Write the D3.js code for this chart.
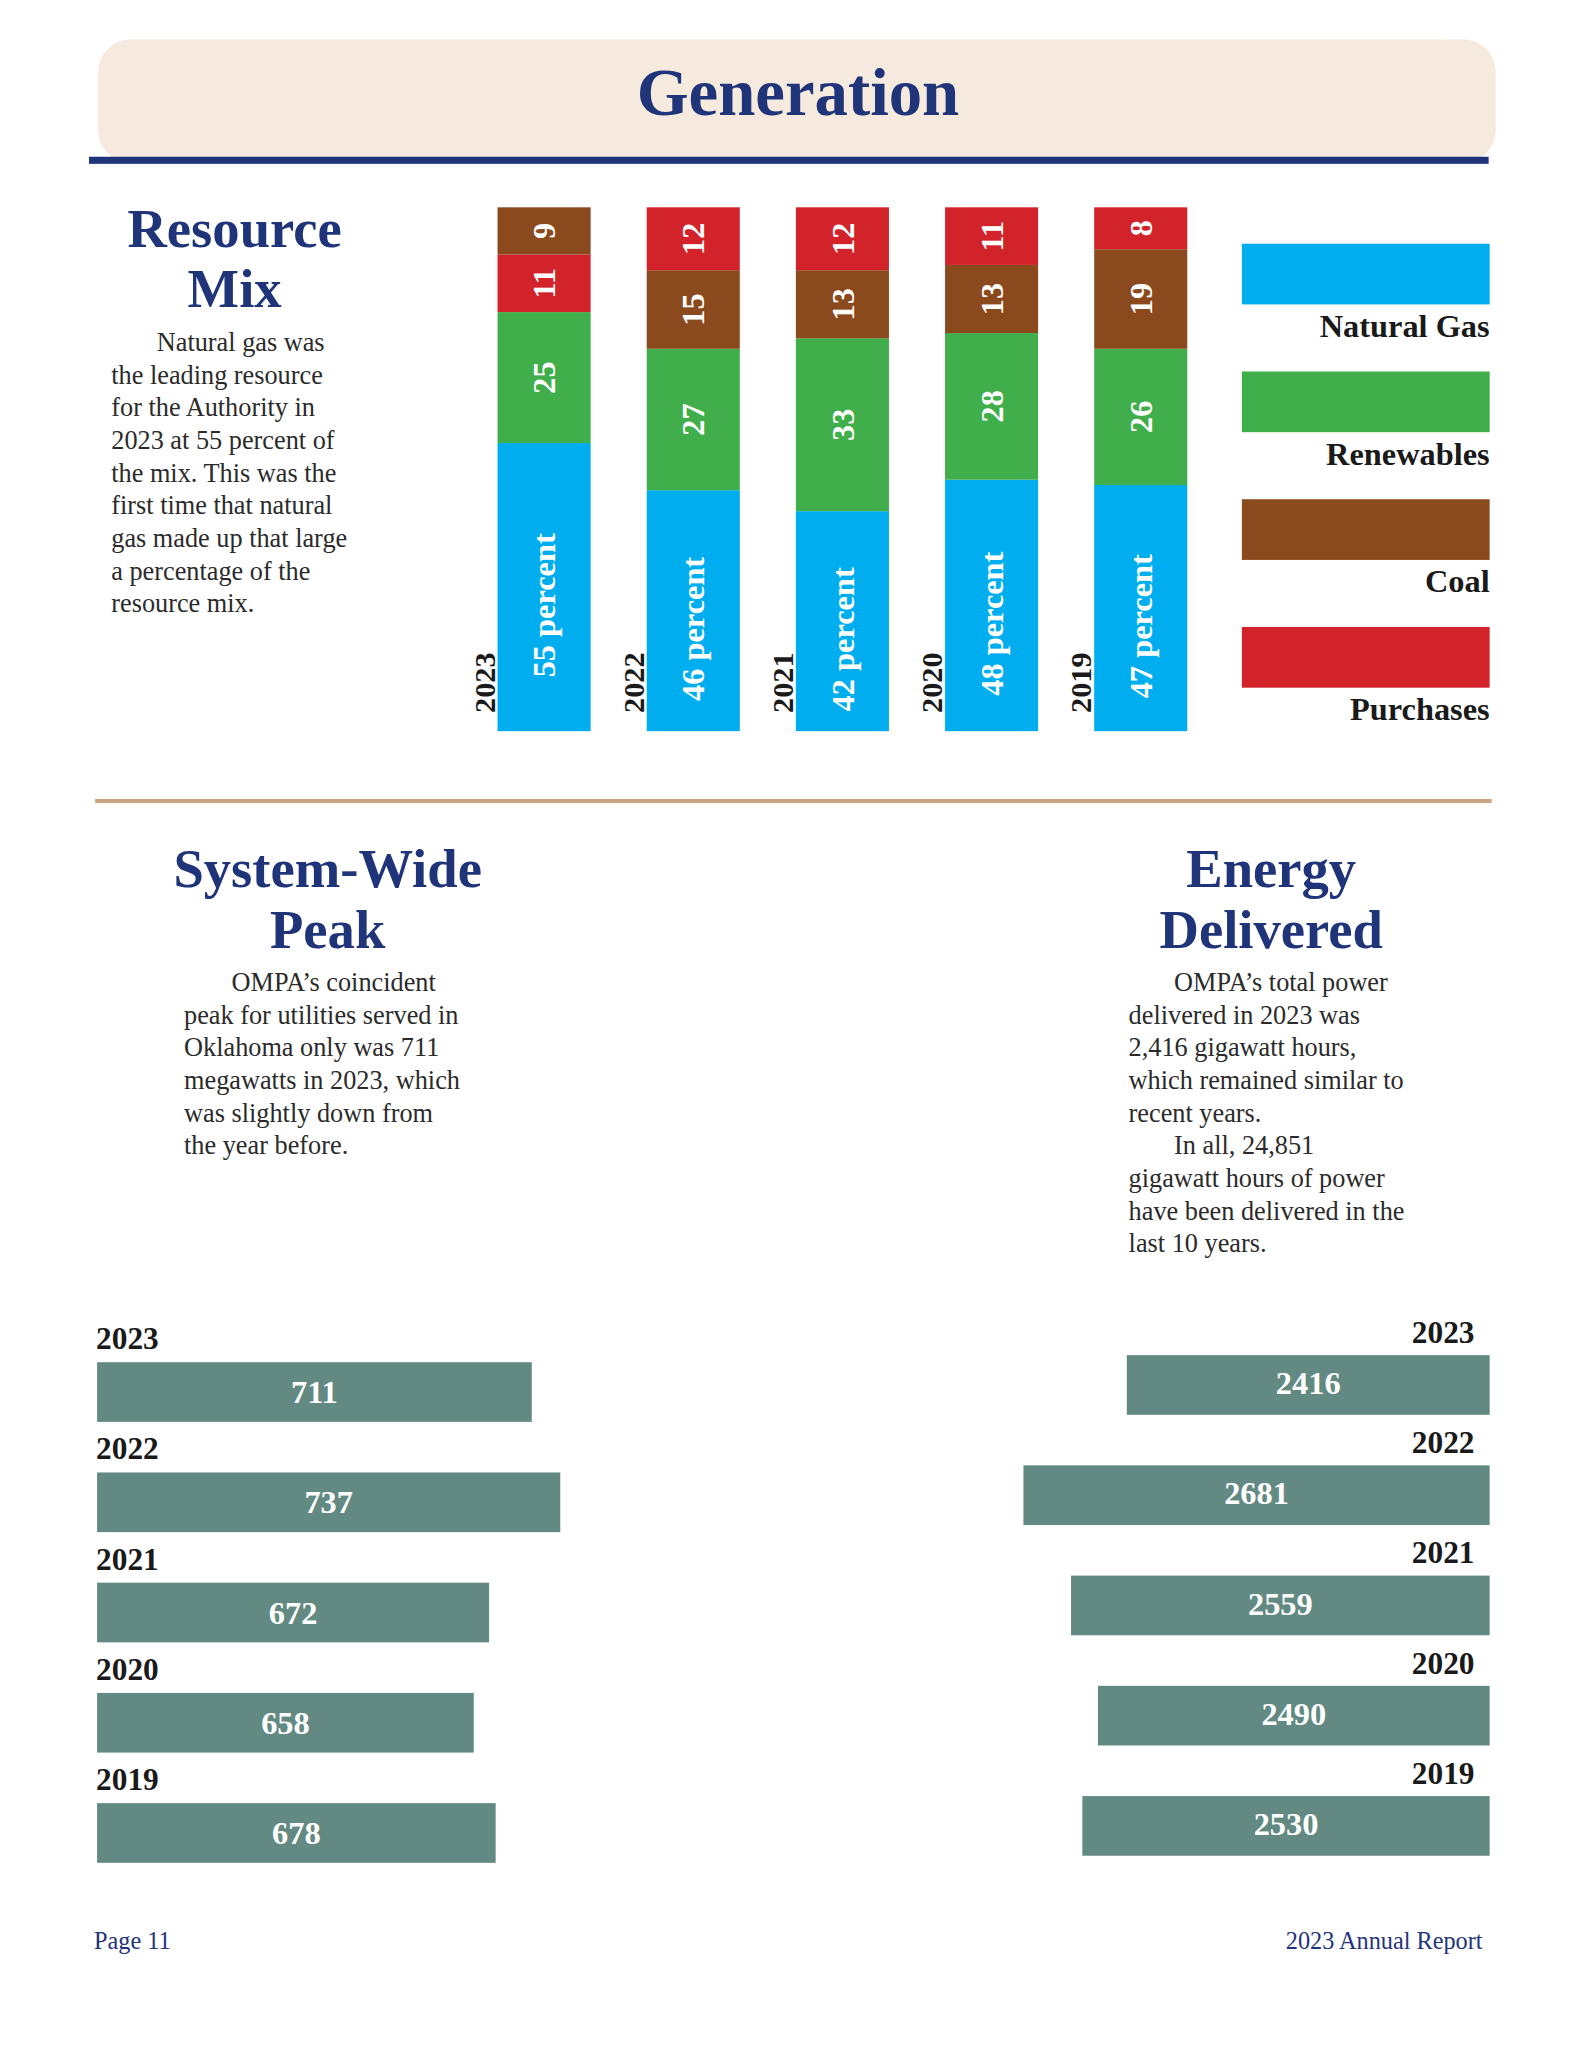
<!DOCTYPE html>
<meta charset="utf-8">
<style>
    body{ margin:0; background:#fff; }
    svg text{ font-family:"Liberation Serif","Times New Roman",serif; }
    .head{ fill:#1f3479; font-weight:bold; }
    .para{ fill:#2b2b2b; font-size:26px; }
    .yr{ fill:#1a1a1a; font-weight:bold; font-size:30px; }
    .lbl{ fill:#fff; font-weight:bold; }
</style>
<script src="https://d3js.org/d3.v7.min.js"></script>
<body>
<div id="page"></div>
<script>
    // resource mix, percent of total
    years = ["2023", "2022", "2021", "2020", "2019"]
    naturalGas = [55, 46, 42, 48, 47]
    renewables = [25, 27, 33, 28, 26]
    coal       = [9, 15, 13, 13, 19]
    purchases  = [11, 12, 12, 11, 8]
    // stacking order bottom -> top (2023 has purchases under coal)
    stackOrder = [
        ["gas", "ren", "pur", "coal"],
        ["gas", "ren", "coal", "pur"],
        ["gas", "ren", "coal", "pur"],
        ["gas", "ren", "coal", "pur"],
        ["gas", "ren", "coal", "pur"]
    ]
    sources = ["Natural Gas", "Renewables", "Coal", "Purchases"]
    sourceKeys = ["gas", "ren", "coal", "pur"]

    // system-wide peak, MW
    peakMW = [711, 737, 672, 658, 678]
    // energy delivered, GWh
    energyGWh = [2416, 2681, 2559, 2490, 2530]

    colors = {gas:"#00aeef", ren:"#40ae4a", coal:"#8b4a1e", pur:"#d2232b"}
    barColor = "#628a82"
    navy = "#1f3479"

    root = d3.select("#page").append("svg")
            .attr("width", 1582)
            .attr("height", 2048);
    // layout below was measured on a slightly smaller grid
    svg = root.append("g").attr("transform", "scale(1.0113)");

    // ---- header ----
    svg.append("rect")
       .attr("x", 97).attr("y", 39)
       .attr("width", 1382).attr("height", 122)
       .attr("rx", 32)
       .attr("fill", "#f5eadd");
    svg.append("rect")
       .attr("x", 88).attr("y", 155)
       .attr("width", 1384).attr("height", 7)
       .attr("fill", navy);
    svg.append("text")
       .attr("class", "head")
       .attr("x", 789).attr("y", 114)
       .attr("text-anchor", "middle")
       .style("font-size", "66px")
       .text("Generation");

    function heading(lines, cx, y0){
        lines.forEach(function(t, i){
            svg.append("text")
               .attr("class", "head")
               .attr("x", cx).attr("y", y0 + i*60)
               .attr("text-anchor", "middle")
               .style("font-size", "54px")
               .text(t);
        });
    }

    function paragraph(lines, x, indent, y0){
        lines.forEach(function(l, i){
            svg.append("text")
               .attr("class", "para")
               .attr("x", l[0] ? indent : x)
               .attr("y", y0 + i*32.3)
               .text(l[1]);
        });
    }

    heading(["Resource", "Mix"], 232, 244);
    paragraph([
        [1, "Natural gas was"],
        [0, "the leading resource"],
        [0, "for the Authority in"],
        [0, "2023 at 55 percent of"],
        [0, "the mix. This was the"],
        [0, "first time that natural"],
        [0, "gas made up that large"],
        [0, "a percentage of the"],
        [0, "resource mix."]
    ], 110, 155, 347);

    // ---- stacked bars ----
    valueOf = {gas:naturalGas, ren:renewables, coal:coal, pur:purchases}

    x = d3.scaleBand()
          .domain(years)
          .range([492, 1174])
          .paddingInner(0.376);
    y = d3.scaleLinear()
          .domain([0, 100])
          .range([723, 205]);

    years.forEach(function(yr, i){
        var base = 0;
        stackOrder[i].forEach(function(k){
            var v = valueOf[k][i];
            var y1 = y(base + v), y0 = y(base);
            svg.append("rect")
               .attr("x", x(yr))
               .attr("y", y1)
               .attr("width", x.bandwidth())
               .attr("height", y0 - y1)
               .attr("fill", colors[k]);
            var cx = x(yr) + x.bandwidth()/2 + 11;
            var cy = (y0 + y1)/2 + (k == "gas" ? 18 : 0);
            svg.append("text")
               .attr("class", "lbl")
               .attr("transform", "translate(" + cx + "," + cy + ") rotate(-90)")
               .attr("text-anchor", "middle")
               .style("font-size", "32px")
               .text(k == "gas" ? v + " percent" : v);
            base += v;
        });
        svg.append("text")
           .attr("class", "yr")
           .attr("transform", "translate(" + (x(yr) - 3) + "," + (y(0) - 18) + ") rotate(-90)")
           .attr("text-anchor", "start")
           .text(yr);
    });

    // legend
    legY = d3.scalePoint()
             .domain(sources)
             .range([241, 620]);
    sources.forEach(function(s, i){
        svg.append("rect")
           .attr("x", 1228).attr("y", legY(s))
           .attr("width", 245).attr("height", 60)
           .attr("fill", colors[sourceKeys[i]]);
        svg.append("text")
           .attr("class", "yr")
           .attr("x", 1473).attr("y", legY(s) + 92)
           .attr("text-anchor", "end")
           .style("font-size", "32px")
           .text(s);
    });

    // tan divider
    svg.append("rect")
       .attr("x", 94).attr("y", 790)
       .attr("width", 1381).attr("height", 4)
       .attr("fill", "#c9a67f");

    heading(["System-Wide", "Peak"], 324, 877);
    paragraph([
        [1, "OMPA\u2019s coincident"],
        [0, "peak for utilities served in"],
        [0, "Oklahoma only was 711"],
        [0, "megawatts in 2023, which"],
        [0, "was slightly down from"],
        [0, "the year before."]
    ], 182, 229, 980);

    heading(["Energy", "Delivered"], 1257, 877);
    paragraph([
        [1, "OMPA\u2019s total power"],
        [0, "delivered in 2023 was"],
        [0, "2,416 gigawatt hours,"],
        [0, "which remained similar to"],
        [0, "recent years."],
        [1, "In all, 24,851"],
        [0, "gigawatt hours of power"],
        [0, "have been delivered in the"],
        [0, "last 10 years."]
    ], 1116, 1161, 980);

    // ---- horizontal bars: peak ----
    yL = d3.scaleBand()
           .domain(years)
           .range([1347, 1842])
           .paddingInner(0.4587);
    xL = d3.scaleLinear()
           .domain([314, 737])
           .range([0, 458]);

    years.forEach(function(yr, i){
        var w = xL(peakMW[i]);
        svg.append("rect")
           .attr("x", 96).attr("y", yL(yr))
           .attr("width", w).attr("height", yL.bandwidth())
           .attr("fill", barColor);
        svg.append("text")
           .attr("class", "lbl")
           .attr("x", 96 + w/2).attr("y", yL(yr) + yL.bandwidth()/2 + 11)
           .attr("text-anchor", "middle")
           .style("font-size", "32px")
           .text(peakMW[i]);
        svg.append("text")
           .attr("class", "yr")
           .attr("x", 95).attr("y", yL(yr) - 13)
           .style("font-size", "31px")
           .text(yr);
    });

    // ---- horizontal bars: energy ----
    yR = d3.scaleBand()
           .domain(years)
           .range([1340, 1835])
           .paddingInner(0.4587);
    xR = d3.scaleLinear()
           .domain([1486, 2681])
           .range([0, 461]);

    years.forEach(function(yr, i){
        var w = xR(energyGWh[i]);
        svg.append("rect")
           .attr("x", 1473 - w).attr("y", yR(yr))
           .attr("width", w).attr("height", yR.bandwidth())
           .attr("fill", barColor);
        svg.append("text")
           .attr("class", "lbl")
           .attr("x", 1473 - w/2).attr("y", yR(yr) + yR.bandwidth()/2 + 9)
           .attr("text-anchor", "middle")
           .style("font-size", "32px")
           .text(energyGWh[i]);
        svg.append("text")
           .attr("class", "yr")
           .attr("x", 1458).attr("y", yR(yr) - 12)
           .attr("text-anchor", "end")
           .style("font-size", "31px")
           .text(yr);
    });

    // footer
    svg.append("text")
       .attr("x", 93).attr("y", 1927)
       .style("font-size", "24px").attr("fill", navy)
       .text("Page 11");
    svg.append("text")
       .attr("x", 1466).attr("y", 1927)
       .attr("text-anchor", "end")
       .style("font-size", "24px").attr("fill", navy)
       .text("2023 Annual Report");
</script>
</body>
